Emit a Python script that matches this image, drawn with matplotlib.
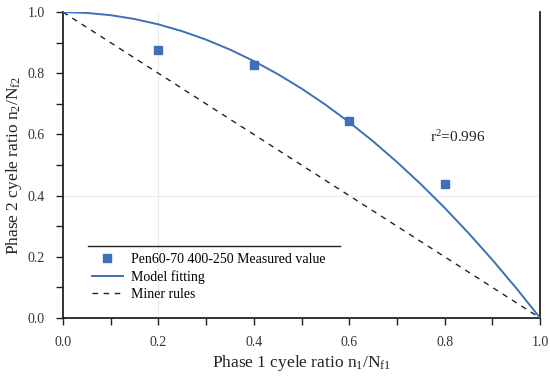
import matplotlib
matplotlib.use("Agg")
import matplotlib.pyplot as plt
from matplotlib.lines import Line2D

plt.rcParams['font.family'] = ['Liberation Serif', 'DejaVu Serif']
plt.rcParams['mathtext.fontset'] = 'custom'
plt.rcParams['mathtext.rm'] = 'Liberation Serif'
plt.rcParams['mathtext.it'] = 'Liberation Serif'

# Measured values
meas_x = [0.2, 0.4, 0.6, 0.8]
meas_y = [0.875, 0.826, 0.644, 0.438]

# Model fitting curve
fit_x = [0.0, 0.05, 0.1, 0.15, 0.2, 0.25, 0.3, 0.35, 0.4, 0.45, 0.5, 0.55, 0.6,
         0.65, 0.7, 0.75, 0.8, 0.85, 0.9, 0.95, 1.0]
fit_y = [1.0, 0.9975, 0.99, 0.9775, 0.96, 0.9375, 0.91, 0.8775, 0.84, 0.7975, 0.75,
         0.6975, 0.64, 0.5775, 0.51, 0.4375, 0.36, 0.2775, 0.19, 0.0975, 0.0]

# Miner rules
miner_x = [0.0, 1.0]
miner_y = [1.0, 0.0]

xticks = [0.0, 0.2, 0.4, 0.6, 0.8, 1.0]
yticks = [0.0, 0.2, 0.4, 0.6, 0.8, 1.0]

blue = '#3f6fb8'

fig = plt.figure(figsize=(5.5, 3.79), dpi=100)
ax = fig.add_axes([0.1145, 0.161, 0.8675, 0.807])

# faint grid lines
ax.axvline(0.2, color='#ececec', lw=0.8, zorder=0)
ax.axhline(0.4, color='#ececec', lw=0.8, zorder=0)

ax.plot(miner_x, miner_y, color='#222222', lw=1.0, ls=(0, (4, 4)), label='Miner rules', zorder=2)
ax.plot(fit_x, fit_y, color=blue, lw=1.4, label='Model fitting', zorder=3)
ax.plot(meas_x, meas_y, ls='none', marker='s', ms=6, color=blue,
        label='Pen60-70 400-250 Measured value', zorder=4)

ax.text(0.77, 0.575, 'r$^2$=0.996', fontsize=11, color='#222222')

ax.set_xlim(0, 1.0)
ax.set_ylim(0, 1.0)
ax.set_xticks(xticks)
ax.set_yticks(yticks)
ax.set_xticklabels(['%.1f' % v for v in xticks], fontsize=10, color='#333333')
ax.set_yticklabels(['%.1f' % v for v in yticks], fontsize=10, color='#333333')
ax.set_xticks([0.1, 0.3, 0.5, 0.7, 0.9], minor=True)
ax.set_yticks([0.1, 0.3, 0.5, 0.7, 0.9], minor=True)
ax.tick_params(which='both', direction='out', color='#222222', width=1.0)
ax.tick_params(which='major', length=5, pad=8)
ax.tick_params(which='minor', length=5)

for s in ['left', 'bottom', 'right']:
    ax.spines[s].set_color('#222222')
    ax.spines[s].set_linewidth(1.3)
ax.spines['top'].set_visible(False)

ax.set_xlabel('Phase 1 cyele ratio n$_1$/N$_{f1}$', fontsize=12.5, color='#222222', labelpad=3)
ax.set_ylabel('Phase 2 cyele ratio n$_2$/N$_{f2}$', fontsize=12.5, color='#222222', labelpad=3)

# decorative line above legend
ax.add_line(Line2D([0.052, 0.58], [0.235, 0.235], transform=ax.transAxes,
                   color='#222222', lw=1.0))

handles, labels = ax.get_legend_handles_labels()
order = [2, 1, 0]
ax.legend([handles[i] for i in order], [labels[i] for i in order],
          loc='lower left', bbox_to_anchor=(0.035, 0.015), frameon=False,
          fontsize=10, handlelength=2.2, labelspacing=0.3, handletextpad=0.6)

fig.savefig('out.png', dpi=100)
